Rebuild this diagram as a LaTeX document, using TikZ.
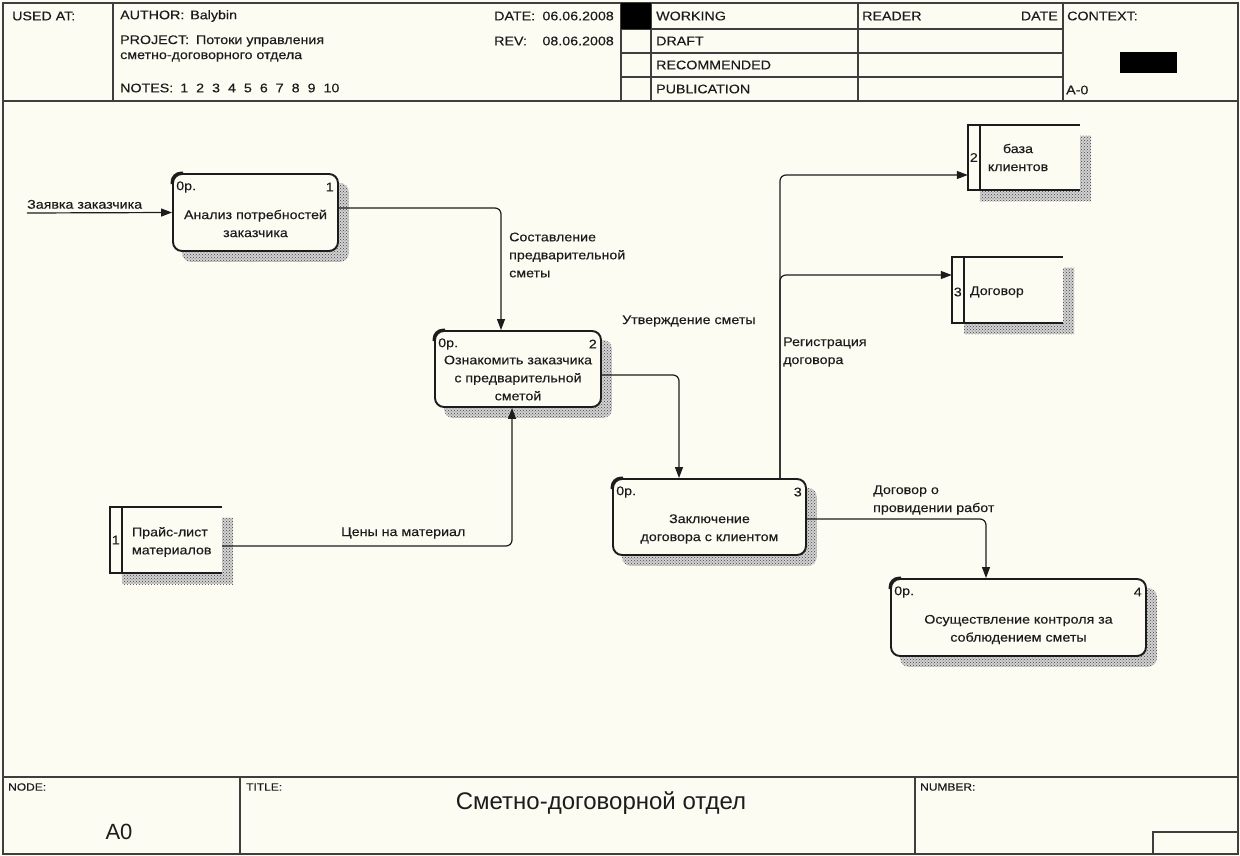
\documentclass[tikz,border=0pt]{standalone}
\usepackage{fontspec}
\setmainfont[FakeStretch=1.14,FakeBold=0.25]{Liberation Sans}
\newfontfamily\plainsans{Liberation Sans}
\usetikzlibrary{arrows.meta,calc,patterns}
\definecolor{paper}{RGB}{253,252,243}
\definecolor{ink}{RGB}{28,28,28}
\pgfdeclarelayer{back}
\pgfdeclarelayer{shade}
\pgfsetlayers{back,shade,main}

\begin{document}
\begin{tikzpicture}[x=1pt,y=-1pt,
  every node/.style={font=\fontsize{12.5}{18}\selectfont, inner sep=0pt, text=ink},
  txt/.style={anchor=west, align=left},
  frame/.style={draw=ink!85, line width=1.4},
  proc/.style={draw=ink, line width=1.9, rounded corners=9, fill=paper, rectangle},
  storebox/.style={fill=paper, rectangle},
  storeline/.style={draw=ink, line width=1.9},
  shadefill/.style={preaction={fill=gray!35}, pattern=crosshatch dots, pattern color=black!75},
  flow/.style={draw=ink, line width=1.2, rounded corners=6, -{Triangle[length=11pt,width=8pt]}},
  lbl/.style={anchor=west, align=left}]

\useasboundingbox (0,0) rectangle (1240,856);
\begin{pgfonlayer}{back}
  \fill[paper] (0,0) rectangle (1240,856);
\end{pgfonlayer}

% ---------- outer frame, header and footer ----------
\coordinate (fnw) at (3,3);
\coordinate (fse) at (1238,854);
\draw[frame] (fnw) rectangle (fse);
\draw[frame] (3,101) -- (1238,101);
\draw[frame] (113,3) -- (113,101);
\draw[frame] (621,3) -- (621,101);
\draw[frame] (651,3) -- (651,101);
\draw[frame] (858,3) -- (858,101);
\draw[frame] (1063,3) -- (1063,101);
\foreach \yy in {29,53,77} \draw[frame] (621,\yy) -- (1063,\yy);
\fill[black] (621,3) rectangle (651,29);
\fill[black] (1120,52) rectangle (1177,73);

\node[txt] (usedat) at (12,16) {USED AT:};
\node[txt] (author) at (120,16) {AUTHOR:\hspace{6pt}Balybin};
\node[txt] (project) at (120,41) {PROJECT:\hspace{7pt}Потоки управления};
\node[txt] (project2) at (120,57) {сметно-договорного отдела};
\node[txt] (notes) at (120,88) {NOTES:\hspace{7pt}1\hspace{8pt}2\hspace{8pt}3\hspace{8pt}4\hspace{8pt}5\hspace{8pt}6\hspace{8pt}7\hspace{8pt}8\hspace{8pt}9\hspace{8pt}10};
\node[txt] (date) at (494,16) {DATE:};
\node[anchor=east] (dateval) at (614,16) {06.06.2008};
\node[txt] (rev) at (494,41) {REV:};
\node[anchor=east] (revval) at (614,41) {08.06.2008};
\node[txt] (working) at (656,16) {WORKING};
\node[txt] (draft) at (656,41) {DRAFT};
\node[txt] (recommended) at (656,65) {RECOMMENDED};
\node[txt] (publication) at (656,89) {PUBLICATION};
\node[txt] (reader) at (862,16) {READER};
\node[anchor=east] (rdate) at (1058,16) {DATE};
\node[txt] (context) at (1067,16) {CONTEXT:};
\node[txt] (ctxid) at (1066,90) {A-0};

\draw[frame] (3,777) -- (1238,777);
\draw[frame] (240,777) -- (240,854);
\draw[frame] (915,777) -- (915,854);
\draw[frame] (1153,854) |- (1238,832);
\node[txt, font=\fontsize{10.5}{12}\selectfont] (nodelbl) at (8,787) {NODE:};
\node[font=\plainsans\fontsize{22}{26}\selectfont] (nodeid) at (119,832) {A0};
\node[txt, font=\fontsize{10.5}{12}\selectfont] (titlelbl) at (246,787) {TITLE:};
\node[font=\plainsans\fontsize{24}{28}\selectfont] (title) at (601,803) {Сметно-договорной отдел};
\node[txt, font=\fontsize{10.5}{12}\selectfont] (numlbl) at (920,787) {NUMBER:};

% ---------- activities ----------
\node[proc, minimum width=165, minimum height=77] (b1) at (255.5,212.5) {};
\node[proc, minimum width=166, minimum height=76] (b2) at (518,369) {};
\node[proc, minimum width=193, minimum height=76] (b3) at (709.5,517) {};
\node[proc, minimum width=255, minimum height=77] (b4) at (1018.5,617.5) {};

\foreach \b/\k in {b1/1,b2/2,b3/3,b4/4} {
  \draw[ink, line width=2.8, rounded corners=9] ($(\b.north west)+(0,11)$) |- ($(\b.north west)+(11,0)$);
  \node[anchor=west] (\b cost) at ($(\b.north west)+(4,14)$) {0р.};
  \node[anchor=east] (\b num) at ($(\b.north east)+(-5,14)$) {\k};
}
\node[align=center] (b1t) at ($(b1.center)+(0,11)$) {Анализ потребностей\\заказчика};
\node[align=center] (b2t) at ($(b2.center)+(0,9)$) {Ознакомить заказчика\\с предварительной\\сметой};
\node[align=center] (b3t) at ($(b3.center)+(0,12)$) {Заключение\\договора с клиентом};
\node[align=center] (b4t) at ($(b4.center)+(0,12)$) {Осуществление контроля за\\соблюдением сметы};

% ---------- data stores ----------
\node[storebox, minimum width=112, minimum height=66] (s1) at (166,540) {};
\node[storebox, minimum width=112, minimum height=65] (s2) at (1024,157.5) {};
\node[storebox, minimum width=111, minimum height=66] (s3) at (1007.5,290) {};
\foreach \s in {s1,s2,s3} {
  \draw[storeline] (\s.north east) -- (\s.north west) -- (\s.south west) -- (\s.south east);
  \draw[storeline] ($(\s.north west)+(12,0)$) -- ($(\s.south west)+(12,0)$);
}
\node (s1num) at ($(s1.west)+(6,0)$) {1};
\node (s2num) at ($(s2.west)+(6,0)$) {2};
\node (s3num) at ($(s3.west)+(6,2)$) {3};
\node[lbl] (s1t) at ($(s1.west)+(22,2)$) {Прайс-лист\\материалов};
\node[align=center] (s2t) at ($(s2.center)+(-6,0)$) {база\\клиентов};
\node[lbl] (s3t) at ($(s3.west)+(18,2)$) {Договор};

% ---------- drop shadows ----------
\begin{pgfonlayer}{shade}
  \foreach \b in {b1,b2,b3,b4}
    \fill[shadefill, rounded corners=9] ($(\b.north west)+(10,10)$) rectangle ($(\b.south east)+(10,10)$);
  \foreach \s in {s1,s2,s3}
    \fill[shadefill] ($(\s.north west)+(12,11)$) rectangle ($(\s.south east)+(11,11)$);
\end{pgfonlayer}

% ---------- flows ----------
\coordinate (src) at (27,213);
\draw[flow] (src) -- (b1.west);
\node[anchor=south west] (l0) at (27,209) {Заявка заказчика};

\draw[flow] ($(b1.east)+(0,-4.5)$) -| ($(b2.north)+(-17,0)$);
\node[lbl] (l1) at (509,255) {Составление\\предварительной\\сметы};

\draw[flow] ($(b2.east)+(0,6)$) -| ($(b3.north)+(-30.5,0)$);
\node[lbl] (l2) at (622,321) {Утверждение сметы};

\draw[flow] ($(s1.east)+(0,6)$) -| ($(b2.south)+(-6,0)$);
\node[lbl] (l3) at (341,533) {Цены на материал};

\draw[flow] ($(b3.north)+(70.5,0)$) |- ($(s2.west)+(0,17.5)$);
\draw[flow] ($(b3.north)+(70.5,0)$) |- ($(s3.west)+(0,-15)$);
\node[lbl] (l4) at (783,352) {Регистрация\\договора};

\draw[flow] ($(b3.east)+(0,2)$) -| ($(b4.north)+(-32.5,0)$);
\node[lbl] (l5) at (873,500) {Договор о\\провидении работ};

\end{tikzpicture}
\end{document}
